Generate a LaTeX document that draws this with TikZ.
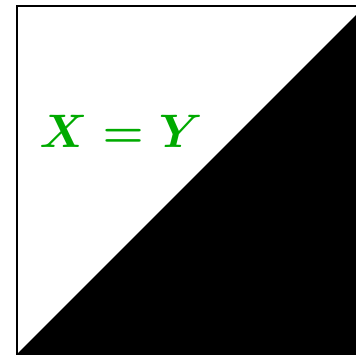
\documentclass[tikz,border=0pt]{standalone}
\usepackage{fix-cm}
\usepackage{xcolor}
\definecolor{eqGreen}{HTML}{00AA00}

\begin{document}
\begin{tikzpicture}[
    x=1pt, y=-1pt,
    frame/.style={draw=black, line width=2pt},
    halfshade/.style={fill=black},
    eqlabel/.style={text=eqGreen, font=\fontsize{47}{56}\selectfont\boldmath, inner sep=0pt},
]

% ============================================
% Page extent
% ============================================
\useasboundingbox (0,0) rectangle (355,355);

% ============================================
% Square and its lower half
% ============================================
\coordinate (tl) at (17,6);
\coordinate (br) at (365,354);
\fill[halfshade] (tl |- br) -- (br |- tl) -- (br) -- cycle;
\draw[frame] (tl) rectangle (br);

% ============================================
% Label
% ============================================
\node[eqlabel] (eq) at (121,131) {$X = Y$};

\end{tikzpicture}
\end{document}
